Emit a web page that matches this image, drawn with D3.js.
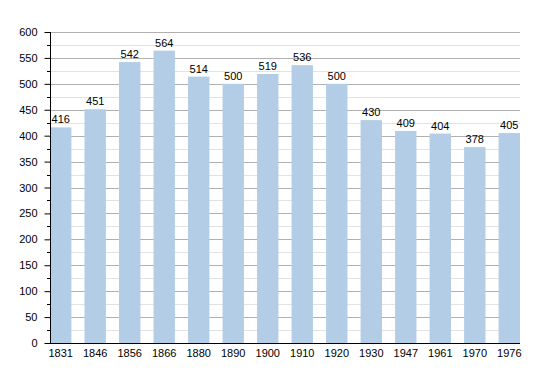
<!DOCTYPE html>
<html>
<head>
<meta charset="utf-8">
<script src="https://cdn.jsdelivr.net/npm/d3@7"></script>
<style>
  body { margin: 0; background: #fff; }
  text { font-family: "Liberation Sans", Arial, sans-serif; }
</style>
</head>
<body>
<script>
// census years and population
let years = ["1831", "1846", "1856", "1866", "1880", "1890", "1900", "1910", "1920", "1930", "1947", "1961", "1970", "1976"];
let population = [416, 451, 542, 564, 514, 500, 519, 536, 500, 430, 409, 404, 378, 405];
let yTicks = [0, 50, 100, 150, 200, 250, 300, 350, 400, 450, 500, 550, 600];

let svg = d3.select("body").append("svg")
	.attr("width", 550)
	.attr("height", 373);

let margin = {left: 50, right: 30, top: 32, bottom: 30};
let width = 550, height = 373;

let x = d3.scaleBand()
	.domain(years)
	.range([margin.left, width - margin.right])
	.paddingInner(0.38)
	.paddingOuter(0);

let y = d3.scaleLinear()
	.domain([0, 600])
	.range([height - margin.bottom, margin.top]);

// minor grid lines every 25
let minor = d3.range(25, 600, 50);
svg.append("g").selectAll("line")
	.data(minor)
	.enter().append("line")
	.attr("x1", margin.left).attr("x2", width - margin.right)
	.attr("y1", d => Math.round(y(d)) + 0.5).attr("y2", d => Math.round(y(d)) + 0.5)
	.attr("stroke", "#e2e2e2");

// major grid lines
svg.append("g").selectAll("line")
	.data(yTicks.slice(1))
	.enter().append("line")
	.attr("x1", margin.left).attr("x2", width - margin.right)
	.attr("y1", d => Math.round(y(d)) + 0.5).attr("y2", d => Math.round(y(d)) + 0.5)
	.attr("stroke", "#b0b0b0");

// bars
svg.append("g").selectAll("rect")
	.data(population)
	.enter().append("rect")
	.attr("x", (d, i) => x(years[i]))
	.attr("y", d => y(d))
	.attr("width", x.bandwidth())
	.attr("height", d => y(0) - y(d))
	.attr("fill", "#b3cde6");

// value labels
svg.append("g").selectAll("text")
	.data(population)
	.enter().append("text")
	.attr("x", (d, i) => x(years[i]) + x.bandwidth() / 2)
	.attr("y", d => y(d) - 4)
	.attr("text-anchor", "middle")
	.attr("font-size", 11)
	.attr("fill", "#000")
	.text(d => d);

// y axis
let yAxis = d3.axisLeft(y).tickValues(yTicks).tickSize(6).tickPadding(7);
let yg = svg.append("g")
	.attr("transform", `translate(${margin.left + 0.5},0)`)
	.call(yAxis);
yg.select(".domain").remove();
yg.selectAll("text").attr("font-size", 11).attr("fill", "#000").style("font-family", "Liberation Sans, Arial, sans-serif");

// minor ticks
svg.append("g").selectAll("line")
	.data(minor)
	.enter().append("line")
	.attr("x1", margin.left - 3).attr("x2", margin.left)
	.attr("y1", d => Math.round(y(d)) + 0.5).attr("y2", d => Math.round(y(d)) + 0.5)
	.attr("stroke", "#000");

svg.append("line")
	.attr("x1", margin.left + 0.5).attr("x2", margin.left + 0.5)
	.attr("y1", y(600)).attr("y2", y(0))
	.attr("stroke", "#000");

// x axis
let xg = svg.append("g")
	.attr("transform", `translate(0,${y(0)})`)
	.call(d3.axisBottom(x).tickSize(0).tickPadding(6));
xg.select(".domain").remove();
xg.selectAll("text").attr("font-size", 11).attr("fill", "#000").style("font-family", "Liberation Sans, Arial, sans-serif");

svg.append("line")
	.attr("x1", margin.left).attr("x2", width - margin.right)
	.attr("y1", y(0) + 0.5).attr("y2", y(0) + 0.5)
	.attr("stroke", "#000");
</script>
</body>
</html>
